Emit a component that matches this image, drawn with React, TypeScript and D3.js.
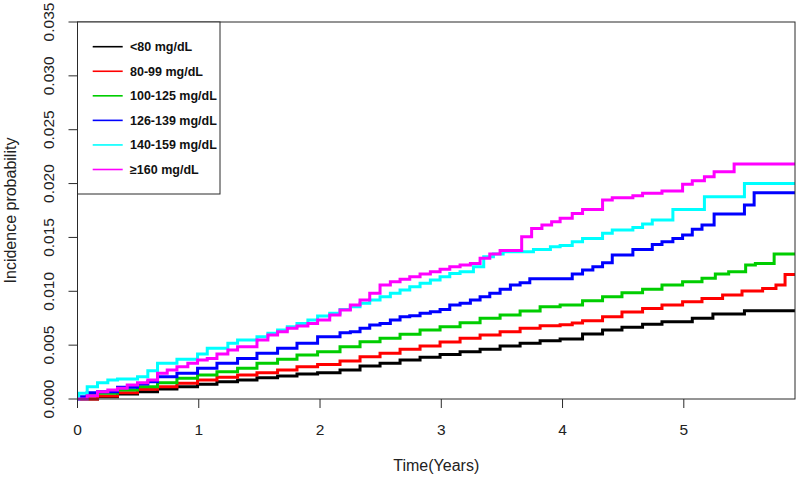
import React from "react";
import * as d3 from "d3";

// ---- Data ----
const SERIES_LABELS = ["<80 mg/dL", "80-99 mg/dL", "100-125 mg/dL", "126-139 mg/dL", "140-159 mg/dL", "≥160 mg/dL"];
const SERIES_COLORS = ["#000000", "#ff0000", "#00cd00", "#0000ff", "#00ffff", "#ff00ff"];

const BLACK_T = [0, 0.165, 0.33, 0.495, 0.66, 0.82, 0.99, 1.15, 1.32, 1.48, 1.65, 1.81, 1.98, 2.165, 2.33, 2.495, 2.66, 2.825, 2.99, 3.155, 3.32, 3.485, 3.65, 3.815, 3.98, 4.165, 4.33, 4.49, 4.66, 4.82, 5.07, 5.24, 5.5, 5.917];
const BLACK_V = [0, 0.00022, 0.00046, 0.00068, 0.00093, 0.00114, 0.00136, 0.00161, 0.00176, 0.00198, 0.00213, 0.00232, 0.00244, 0.00269, 0.00306, 0.00331, 0.00362, 0.00387, 0.00414, 0.00439, 0.00461, 0.00492, 0.00517, 0.00541, 0.00556, 0.00603, 0.0064, 0.00665, 0.00693, 0.00718, 0.00749, 0.00789, 0.0082, 0.0082];

const RED_T = [0, 0.165, 0.33, 0.495, 0.66, 0.82, 0.99, 1.15, 1.32, 1.48, 1.65, 1.81, 1.98, 2.165, 2.33, 2.495, 2.66, 2.825, 2.99, 3.155, 3.32, 3.485, 3.65, 3.815, 3.98, 4.08, 4.165, 4.33, 4.49, 4.66, 4.82, 4.99, 5.15, 5.32, 5.48, 5.65, 5.76, 5.835, 5.917];
const RED_V = [0, 0.00028, 0.00059, 0.0009, 0.00114, 0.00146, 0.00176, 0.00201, 0.00223, 0.00244, 0.00269, 0.003, 0.0032, 0.00353, 0.00393, 0.00424, 0.00461, 0.00492, 0.00529, 0.00563, 0.00594, 0.00625, 0.00656, 0.0068, 0.0069, 0.00705, 0.00727, 0.00764, 0.00807, 0.00841, 0.00872, 0.00903, 0.00934, 0.00965, 0.01002, 0.01027, 0.01058, 0.01157, 0.01157];

const GREEN_T = [0, 0.08, 0.165, 0.33, 0.495, 0.66, 0.82, 0.99, 1.15, 1.32, 1.48, 1.65, 1.81, 1.98, 2.165, 2.33, 2.495, 2.66, 2.825, 2.99, 3.155, 3.32, 3.485, 3.65, 3.815, 3.98, 4.165, 4.33, 4.49, 4.66, 4.82, 4.99, 5.15, 5.26, 5.37, 5.51, 5.59, 5.745, 5.917];
const GREEN_V = [0, 0.00037, 0.00053, 0.00084, 0.00114, 0.00151, 0.00192, 0.00223, 0.00253, 0.00285, 0.00331, 0.00368, 0.00408, 0.00439, 0.00486, 0.00532, 0.00563, 0.006, 0.0064, 0.00671, 0.00708, 0.00749, 0.0078, 0.00817, 0.00857, 0.00872, 0.00913, 0.0095, 0.00987, 0.01018, 0.01058, 0.01089, 0.0112, 0.0116, 0.01182, 0.01244, 0.01259, 0.01346, 0.01346];

const BLUE_T = [0, 0.01, 0.08, 0.165, 0.33, 0.495, 0.58, 0.66, 0.82, 0.99, 1.15, 1.32, 1.48, 1.65, 1.81, 1.98, 2.165, 2.25, 2.33, 2.41, 2.495, 2.58, 2.66, 2.74, 2.825, 2.91, 2.99, 3.07, 3.155, 3.24, 3.32, 3.4, 3.485, 3.57, 3.65, 3.73, 4.08, 4.165, 4.25, 4.33, 4.41, 4.58, 4.74, 4.82, 4.91, 4.99, 5.07, 5.15, 5.25, 5.5, 5.58, 5.917];
const BLUE_V = [0, 0.00022, 0.00059, 0.00068, 0.00108, 0.00139, 0.00161, 0.00207, 0.00238, 0.00285, 0.00331, 0.00377, 0.00424, 0.0047, 0.00517, 0.00578, 0.00616, 0.00625, 0.00656, 0.00687, 0.00702, 0.00733, 0.00764, 0.00773, 0.00795, 0.0081, 0.00832, 0.00872, 0.00888, 0.00919, 0.0095, 0.00981, 0.01018, 0.01058, 0.0108, 0.01117, 0.0116, 0.01197, 0.01228, 0.01265, 0.01336, 0.01389, 0.01435, 0.0146, 0.01491, 0.01522, 0.01575, 0.01615, 0.01717, 0.018, 0.01915, 0.01915];

const CYAN_T = [0, 0.01, 0.08, 0.165, 0.25, 0.33, 0.495, 0.58, 0.66, 0.82, 0.99, 1.07, 1.24, 1.32, 1.48, 1.57, 1.65, 1.73, 1.81, 1.9, 1.98, 2.08, 2.165, 2.25, 2.33, 2.41, 2.495, 2.58, 2.66, 2.74, 2.825, 2.91, 2.99, 3.07, 3.155, 3.265, 3.35, 3.43, 3.51, 3.76, 3.9, 3.98, 4.08, 4.165, 4.33, 4.41, 4.58, 4.66, 4.74, 4.91, 5.17, 5.5, 5.917];
const CYAN_V = [0, 0.00053, 0.00114, 0.00151, 0.00176, 0.00186, 0.00207, 0.00263, 0.00331, 0.00368, 0.00418, 0.0047, 0.00517, 0.00548, 0.00578, 0.0061, 0.0064, 0.00671, 0.00702, 0.00733, 0.0077, 0.00795, 0.00832, 0.00857, 0.00888, 0.00919, 0.0095, 0.00981, 0.01012, 0.01042, 0.01074, 0.01104, 0.01135, 0.01166, 0.01181, 0.01228, 0.01321, 0.01346, 0.01367, 0.01389, 0.01413, 0.01426, 0.0146, 0.01491, 0.01538, 0.01568, 0.01593, 0.01624, 0.01661, 0.0176, 0.01878, 0.02001, 0.02001];

const MAGENTA_T = [0, 0.08, 0.165, 0.25, 0.33, 0.41, 0.495, 0.58, 0.66, 0.74, 0.82, 0.91, 0.99, 1.07, 1.15, 1.24, 1.32, 1.48, 1.57, 1.65, 1.73, 1.81, 1.9, 1.98, 2.08, 2.165, 2.25, 2.33, 2.41, 2.495, 2.58, 2.66, 2.74, 2.825, 2.91, 2.99, 3.07, 3.155, 3.24, 3.32, 3.4, 3.485, 3.663, 3.745, 3.83, 3.91, 3.98, 4.08, 4.165, 4.33, 4.41, 4.58, 4.66, 4.82, 4.99, 5.07, 5.17, 5.25, 5.415, 5.917];
const MAGENTA_V = [0, 0.0003, 0.00068, 0.00084, 0.00099, 0.0013, 0.00151, 0.00176, 0.00238, 0.00269, 0.003, 0.00331, 0.00362, 0.00377, 0.00418, 0.00455, 0.00486, 0.00548, 0.00594, 0.00625, 0.00656, 0.00677, 0.00702, 0.00733, 0.0078, 0.00826, 0.00872, 0.00919, 0.00981, 0.01058, 0.01089, 0.01111, 0.01135, 0.0116, 0.01181, 0.01204, 0.01228, 0.01244, 0.01259, 0.01306, 0.01346, 0.01378, 0.01506, 0.01584, 0.01615, 0.01645, 0.01677, 0.01723, 0.0176, 0.01847, 0.01868, 0.01887, 0.01909, 0.01931, 0.01993, 0.02026, 0.02063, 0.0211, 0.02181, 0.02181];

const X_TICKS = [0, 1, 2, 3, 4, 5];
const Y_TICKS = [0, 0.005, 0.01, 0.015, 0.02, 0.025, 0.03, 0.035];
const X_TITLE = "Time(Years)";
const Y_TITLE = "Incidence probability";

const SERIES_T = [BLACK_T, RED_T, GREEN_T, BLUE_T, CYAN_T, MAGENTA_T];
const SERIES_V = [BLACK_V, RED_V, GREEN_V, BLUE_V, CYAN_V, MAGENTA_V];

// ---- Layout ----
const W = 800;
const H = 478;
const PLOT = { left: 77.5, right: 795, top: 22, bottom: 399 };
const FONT = "'Liberation Sans', Arial, Helvetica, sans-serif";

export default function App() {
  const x = d3.scaleLinear().domain([0, 5.917]).range([PLOT.left, PLOT.right]);
  const y = d3.scaleLinear().domain([0, 0.035]).range([PLOT.bottom, PLOT.top]);
  const line = d3
    .line<[number, number]>()
    .x((d) => x(d[0]))
    .y((d) => y(d[1]))
    .curve(d3.curveStepAfter);

  const series = SERIES_LABELS.map((label, i) => ({
    label,
    color: SERIES_COLORS[i],
    points: SERIES_T[i].map((t, j) => [t, SERIES_V[i][j]] as [number, number]),
  }));

  const legendY = d3.scaleLinear().domain([0, 5]).range([46.7, 169.5]);
  const fmt = d3.format(".3f");
  const axisColor = "#2a2a2a";

  return (
    <svg
      width={W}
      height={H}
      viewBox={`0 0 ${W} ${H}`}
      style={{ position: "absolute", left: 0, top: 0, background: "#fff" }}
      fontFamily={FONT}
    >
      <rect x={0} y={0} width={W} height={H} fill="#fff" />

      {/* curves */}
      <g fill="none" strokeWidth={3} strokeLinejoin="miter" strokeLinecap="butt">
        {series.map((s) => (
          <path key={s.label} d={line(s.points) || ""} stroke={s.color} />
        ))}
      </g>

      {/* frame */}
      <rect
        x={PLOT.left}
        y={PLOT.top}
        width={PLOT.right - PLOT.left}
        height={PLOT.bottom - PLOT.top}
        fill="none"
        stroke={axisColor}
        strokeWidth={1}
      />

      {/* y axis ticks */}
      <g>
        {Y_TICKS.map((v) => (
          <g key={v}>
            <line x1={PLOT.left - 9} x2={PLOT.left} y1={y(v)} y2={y(v)} stroke={axisColor} strokeWidth={1} />
            <text
              transform={`translate(53.5,${y(v)}) rotate(-90)`}
              textAnchor="middle"
              fontSize={15.5}
              fill="#222"
            >
              {fmt(v)}
            </text>
          </g>
        ))}
      </g>

      {/* x axis ticks */}
      <g>
        {X_TICKS.map((v) => (
          <g key={v}>
            <line x1={x(v)} x2={x(v)} y1={PLOT.bottom} y2={PLOT.bottom + 9} stroke={axisColor} strokeWidth={1} />
            <text x={x(v)} y={435} textAnchor="middle" fontSize={15.5} fill="#222">
              {v}
            </text>
          </g>
        ))}
      </g>

      {/* axis titles */}
      <text x={(PLOT.left + PLOT.right) / 2} y={471} textAnchor="middle" fontSize={16} fill="#222">
        {X_TITLE}
      </text>
      <text
        transform={`translate(16,${(PLOT.top + PLOT.bottom) / 2}) rotate(-90)`}
        textAnchor="middle"
        fontSize={16}
        fill="#222"
      >
        {Y_TITLE}
      </text>

      {/* legend */}
      <g>
        <rect x={PLOT.left} y={PLOT.top} width={142.5} height={172} fill="#fff" stroke={axisColor} strokeWidth={1} />
        {series.map((s, i) => (
          <g key={s.label}>
            <line x1={92.7} x2={122.7} y1={legendY(i)} y2={legendY(i)} stroke={s.color} strokeWidth={1.6} />
            <text x={130} y={legendY(i)} dy="0.35em" fontSize={12.5} fontWeight="bold" fill="#111">
              {s.label}
            </text>
          </g>
        ))}
      </g>
    </svg>
  );
}
